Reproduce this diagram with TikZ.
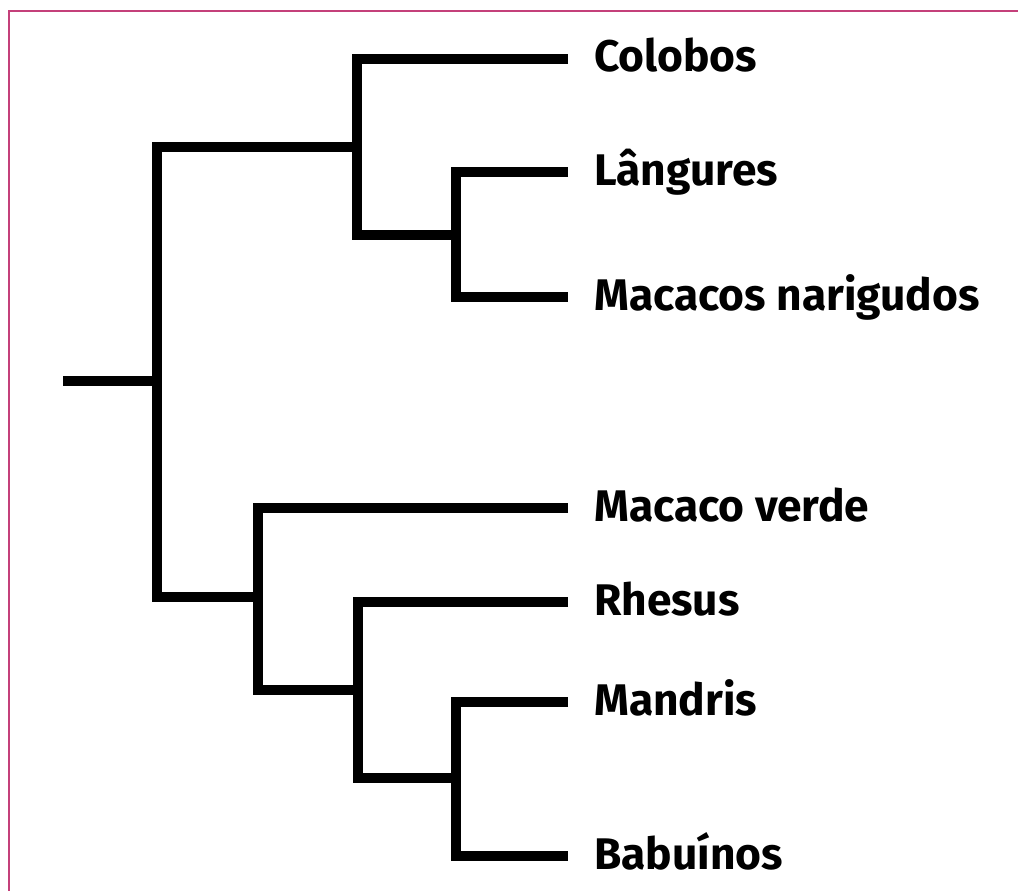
\documentclass[tikz,border=0pt]{standalone}
\usepackage{fontspec}
\setmainfont{Fira Sans}
\definecolor{framecol}{RGB}{196,64,122}
\begin{document}
\begin{tikzpicture}[x=1pt,y=-1pt,
  branch/.style={line width=9.5pt, line join=miter, line cap=butt},
  leaf/.style={anchor=base west, font=\fontsize{44.3}{50}\selectfont\bfseries, inner sep=0pt}]
\useasboundingbox (0,0) rectangle (1018,891);
\draw[framecol, line width=2.5pt] (9,891) -- (9,11) -- (1018,11);
% junctions
\coordinate (root) at (63,381);
\coordinate (J0) at (157,381);
\coordinate (J1) at (357,147);
\coordinate (J2) at (456,235);
\coordinate (J3) at (258,597);
\coordinate (J4) at (358,690);
\coordinate (J5) at (456,778);
% leaf tips
\coordinate (L1) at (568,59);
\coordinate (L2) at (568,172);
\coordinate (L3) at (568,297);
\coordinate (L4) at (568,508);
\coordinate (L5) at (568,602);
\coordinate (L6) at (568,702);
\coordinate (L7) at (568,856);
% branches
\draw[branch] (root) -- (J0);
\draw[branch] (J1) -| (J0) |- (J3);
\draw[branch] (L1) -| (J1) |- (J2);
\draw[branch] (L2) -| (J2) |- (L3);
\draw[branch] (L4) -| (J3) |- (J4);
\draw[branch] (L5) -| (J4) |- (J5);
\draw[branch] (L6) -| (J5) |- (L7);
% labels
\node[leaf] (t1) at (594,72) {Colobos};
\node[leaf] (t2) at (594,185) {Lângures};
\node[leaf] (t3) at (594,310) {Macacos narigudos};
\node[leaf] (t4) at (594,521) {Macaco verde};
\node[leaf] (t5) at (594,615) {Rhesus};
\node[leaf] (t6) at (594,715) {Mandris};
\node[leaf] (t7) at (594,869) {Babuínos};
\end{tikzpicture}
\end{document}
